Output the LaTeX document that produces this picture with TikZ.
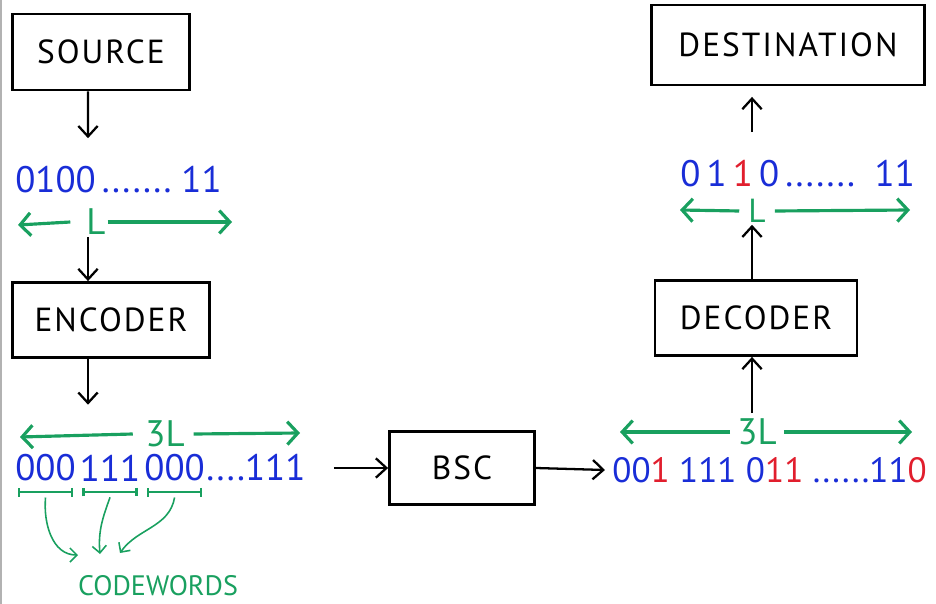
\documentclass[tikz,border=0pt]{standalone}
\usepackage{fontspec}
\setmainfont{PT Sans}
\newfontfamily\boxfont[LetterSpace=6]{PT Sans}
\usetikzlibrary{arrows.meta,positioning,calc}
\definecolor{bitblue}{RGB}{25,45,215}
\definecolor{fliperror}{RGB}{225,30,45}
\definecolor{spangreen}{RGB}{25,160,95}
\tikzset{
    block/.style={draw,line width=1.6pt,inner sep=0pt,
        font=\boxfont\fontsize{19}{22}\selectfont},
    flow/.style={line width=1.3pt,-{Straight Barb[length=6pt,width=11pt]}},
    span/.style={spangreen,line width=1.8pt,-{Straight Barb[length=6pt,width=13pt]}},
    spanlabel/.style={spangreen,inner sep=1pt,font=\fontsize{21}{24}\selectfont},
    bits/.style={bitblue,inner sep=0pt,font=\fontsize{21}{24}\selectfont},
    smallbits/.style={bits,font=\fontsize{20}{24}\selectfont},
    brace/.style={spangreen,line width=1.4pt,shorten <=1.5pt,shorten >=1.5pt,
        {Bar[width=5pt]}-{Bar[width=5pt]}},
    pick/.style={spangreen,line width=0.9pt,-{Straight Barb[length=4pt,width=8pt]}},
}
\newcommand{\flip}[1]{\textcolor{fliperror}{#1}}

\begin{document}
\begin{tikzpicture}[x=0.02cm,y=-0.02cm]
                \useasboundingbox (0,0) rectangle (936,604);
                \draw[gray!60,line width=1.2pt] (0.5,0) -- (0.5,604);

                % Blocks
                \node[block,minimum width=3.54cm,minimum height=1.52cm] (source) at (101,52) {SOURCE};
                \node[block,minimum width=3.94cm,minimum height=1.5cm] (encoder) at (111,320) {ENCODER};
                \node[block,minimum width=2.9cm,minimum height=1.46cm] (bsc) at (462,468) {BSC};
                \node[block,minimum width=4.04cm,minimum height=1.5cm] (decoder) at (756,318) {DECODER};
                \node[block,minimum width=5.46cm,minimum height=1.6cm] (destination) at (788,45) {DESTINATION};

                % Message before encoding
                \node[bits,anchor=west] (message) at (15,180) {0100\,.......\ 11};
                \node[spanlabel] (lenA) at (96,222) {L};
                \coordinate (lenAleft) at (18,225);
                \coordinate (lenAright) at (232,222);
                \draw[span] ([xshift=-8pt]lenA.west) -- (lenAleft);
                \draw[span] (lenA.east) -- (lenAright);

                % Encoded sequence, split into codewords
                \node[bits,anchor=west] (cw1) at (15,468) {000};
                \node[bits,right=2pt of cw1] (cw2) {111};
                \node[bits,right=2pt of cw2] (cw3) {000};
                \node[bits,right=0.5pt of cw3] (cwrest) {....111};
                \node[spanlabel] (lenB) at (165,434) {3L};
                \coordinate (lenBleft) at (20,437);
                \coordinate (lenBright) at (300,433);
                \draw[span] ([xshift=-6pt]lenB.west) -- (lenBleft);
                \draw[span] ([xshift=4pt]lenB.east) -- (lenBright);

                % Codeword brackets
                \foreach \w in {cw1,cw2,cw3}
                    \draw[brace] ([yshift=-6pt]\w.south west) -- ([yshift=-6pt]\w.south east);
                \node[spangreen,font=\fontsize{16}{19}\selectfont] (codewords) at (158,586) {CODEWORDS};
                \coordinate (pickA) at (78,555);
                \coordinate (pickB) at (100,554);
                \coordinate (pickC) at (120,553);
                \draw[pick] ([yshift=-9pt]cw1.south) to[out=-95,in=180] (pickA);
                \draw[pick] ([yshift=-9pt]cw2.south) to[out=-110,in=95] (pickB);
                \draw[pick] ([yshift=-9pt]cw3.south) to[out=-100,in=55] (pickC);

                % Received sequence with flipped bits
                \node[smallbits,anchor=west] (received) at (612,470)
                    {00\flip{1} 111 0\flip{11} ......11\flip{0}};
                \node[spanlabel] (lenC) at (757,432) {3L};
                \coordinate (lenCleft) at (620,432);
                \coordinate (lenCright) at (912,432);
                \draw[span] ([xshift=-3pt]lenC.west) -- (lenCleft);
                \draw[span] ([xshift=3pt]lenC.east) -- (lenCright);

                % Decoded message
                \node[bits,anchor=west] (decoded) at (680,174) {0\,1\,\flip{1}\,0\,.......\ \ 11};
                \node[spanlabel,font=\fontsize{19}{22}\selectfont] (lenD) at (757,211) {L};
                \coordinate (lenDleft) at (680,210);
                \coordinate (lenDright) at (910,210);
                \draw[span] ([xshift=-4pt]lenD.west) -- (lenDleft);
                \draw[span] ([xshift=4pt]lenD.east) -- (lenDright);

                % Flow arrows
                \draw[flow,shorten >=16pt] (source.south -| lenA) ++(-8,0) -- ([xshift=-0.16cm]message.north -| lenA);
                \draw[flow] ([xshift=-0.16cm]lenA.south) -- ([xshift=-0.16cm]encoder.north -| lenA);
                \draw[flow] ([xshift=-0.16cm]encoder.south -| lenA) -- ([xshift=-0.16cm,yshift=8pt]lenB.north -| lenA);
                \draw[flow] ([xshift=-4pt]cwrest.east) ++(35,0) -- (bsc.west);
                \draw[flow] (bsc.east) -- ([xshift=-4pt]received.west);
                \draw[flow] ([xshift=-0.08cm,yshift=2pt]lenC.north -| decoder) -- ([xshift=-0.08cm]decoder.south);
                \draw[flow] ([xshift=-0.08cm]decoder.north) -- ([xshift=-0.08cm]lenD.south -| decoder);
                \draw[flow,shorten <=16pt,shorten >=6pt] ([xshift=-0.08cm]decoded.north -| decoder) -- ([xshift=-0.08cm]destination.south -| decoder);
\end{tikzpicture}
\end{document}
